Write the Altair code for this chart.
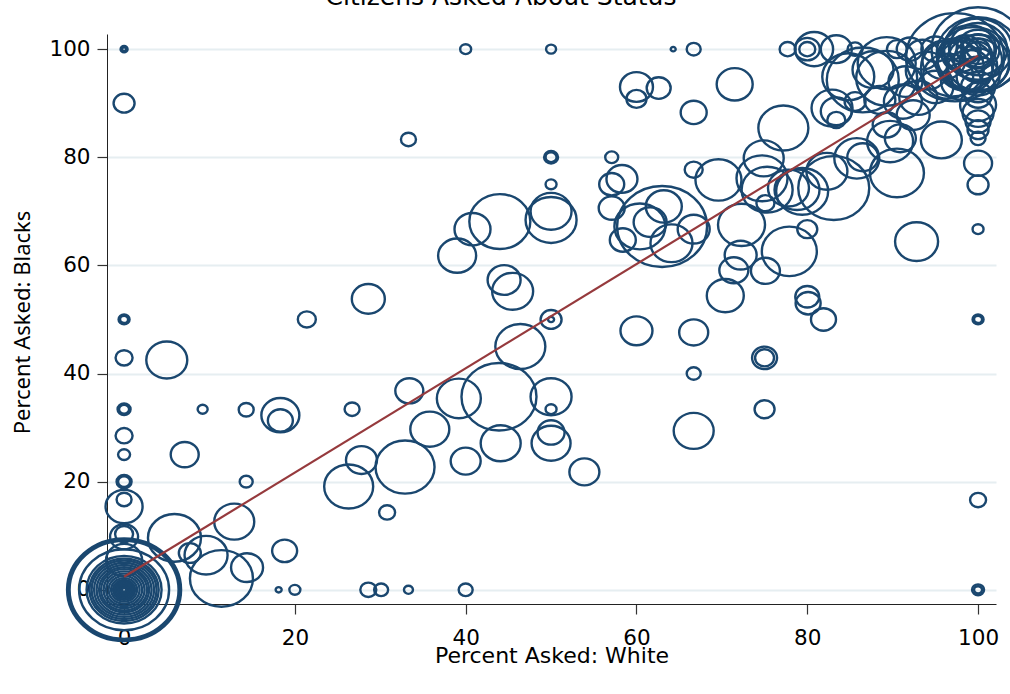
import altair as alt
import pandas as pd

TITLE = "Citizens Asked About Status"

# (percent asked: white, percent asked: blacks, stops) per agency
zero_white = [
    (0, 100, 1.6), (0, 100, 4.9), (0, 90, 44.1), (0, 50, 6.4), (0, 50, 12.1),
    (0, 42.9, 28.9), (0, 33.4, 10), (0, 33.4, 16.9), (0, 28.5, 28.9), (0, 25, 14.4),
    (0, 20, 14.4), (0, 20, 22.5), (0, 16.7, 22.5), (0, 15.4, 136.9), (0, 10.3, 32.4),
    (0, 9.8, 78.4), (0, 5.5, 129.6),
]
origin = [
    (0, 0, 1299.6), (0, 0, 1250.0), (0, 0, 1188.1), (0, 0, 810), (0, 0, 562.5),
    (0, 0, 480.0), (0, 0, 422.5), (0, 0, 360.0), (0, 0, 302.5), (0, 0, 250.0),
    (0, 0, 211.6), (0, 0, 168.1), (0, 0, 129.6), (0, 0, 96.1), (0, 0, 67.6),
    (0, 0, 48.4), (0, 0, 36.1), (0, 0, 25.6), (0, 0, 16.9), (0, 0, 10),
    (0, 0, 4.9), (0, 0, 1.6),
]
zero_black = [
    (18.1, 0, 3.6), (20, 0, 12.1), (28.6, 0, 25.6), (30.1, 0, 19.6), (33.3, 0, 8.1),
    (40, 0, 19.6), (100, 0, 6.4), (100, 0, 14.4),
]
all_black = [
    (40, 100, 12.1), (50, 100, 10), (64.3, 100, 2.5), (66.7, 100, 19.6), (77.7, 100, 25.6),
    (80, 100, 62.5), (80, 100, 25.6), (80.8, 100, 144.4), (83.4, 100, 96.1), (85.6, 100, 22.5),
]
lower_half = [
    (21.4, 50, 32.4), (28.6, 53.8, 108.9), (50, 50, 44.1), (50, 50, 3.6), (60, 47.9, 102.4),
    (66.7, 47.6, 84.1), (66.7, 40, 19.6), (46.4, 45, 250), (43.9, 35.7, 562.5), (39.2, 35.4, 193.6),
    (50, 35.7, 168.1), (50, 33.4, 12.1), (33.4, 36.8, 78.4), (35.8, 29.7, 152.1), (50, 29.1, 72.9),
    (50, 27.1, 152.1), (44.1, 27.1, 160), (40, 23.8, 90), (53.9, 21.8, 90), (66.7, 29.4, 160),
    (32.9, 22.7, 348.1), (27.8, 24, 96.1), (26.3, 19.1, 240.1), (26.7, 33.4, 22.5), (18.3, 32.3, 144.4),
    (18.3, 31.3, 62.5), (14.3, 33.3, 22.5), (14.3, 20, 16.9), (5, 42.5, 168.1), (9.2, 33.4, 10),
    (7.1, 25, 78.4), (5.9, 9.6, 280.9), (7.7, 6.8, 48.4), (9.6, 6.4, 184.9), (11.4, 2.1, 396.9),
    (12.9, 12.6, 160), (14.4, 4.1, 102.4), (18.8, 7.2, 62.5), (30.8, 14.3, 25.6), (100, 50, 6.4),
    (100, 50, 12.1), (75, 42.9, 62.5), (75, 42.9, 36.1), (75, 33.4, 40), (100, 16.6, 25.6),
    (81.9, 50, 62.5),
]
middle = [
    (33.3, 83.3, 22.5), (60, 93, 108.9), (62.6, 92.8, 57.6), (60, 90.8, 40), (66.7, 88.3, 67.6),
    (71.5, 93.5, 129.6), (50, 80, 12.1), (50, 80, 19.6), (57.1, 80, 16.9), (50, 75, 12.1),
    (57.1, 75, 62.5), (58.3, 76, 96.1), (66.7, 77.7, 32.4), (57.1, 70.6, 67.6), (50, 68.4, 260.1),
    (50, 70, 168.1), (44, 68.1, 372.1), (40.8, 66.7, 129.6), (39, 61.8, 144.4), (44.5, 57.3, 108.9),
    (45.5, 55.2, 168.1), (63, 67.2, 810), (63.2, 70.9, 129.6), (61.6, 68, 108.9), (60.4, 67.2, 260.1),
    (64.1, 64.1, 176.4), (66.7, 66.7, 102.4), (58.4, 64.7, 67.6), (69.6, 75.8, 211.6), (77.2, 85.4, 250),
    (74.9, 79.8, 160), (74.7, 76.1, 260.1), (75.3, 74, 260.1), (75.1, 71.5, 32.4), (72.3, 67.5, 220.9),
    (77.8, 74.3, 168.1), (78.8, 74, 202.5), (79.4, 73.7, 270.4), (82.3, 77.4, 168.1), (83.1, 74.3, 504.1),
    (80, 66.7, 40), (77.9, 62.6, 302.5), (75.1, 59, 84.1), (72.2, 61.9, 102.4), (71.4, 59.1, 84.1),
    (70.4, 54.4, 136.9), (80, 54.2, 57.6), (80.1, 53, 62.5), (92.8, 64.4, 184.9), (100, 66.7, 12.1),
]
upper_right = [
    (85.8, 79.8, 202.5), (86.5, 80, 96.1), (90.5, 77.1, 291.6), (89.7, 82.9, 211.6), (90.9, 83.5, 96.1),
    (95.7, 83.2, 168.1), (100, 78.9, 78.4), (100, 74.9, 44.1), (100, 83.5, 22.5), (100, 85.1, 44.1),
    (100, 86.6, 62.5), (100, 88.2, 96.1), (100, 89.7, 129.6), (83.4, 88.5, 96.1), (82.9, 89.1, 168.1),
    (85.6, 90.3, 44.1), (83.4, 86.9, 32.4), (84.8, 94.9, 270.4), (87.7, 96.2, 168.1), (89.3, 97.4, 336.4),
    (89.3, 94.6, 372.1), (88.5, 90.6, 96.1), (91.2, 90.3, 144.4), (92.4, 87.8, 108.9), (89.3, 86, 78.4),
    (97.3, 98.5, 960.4), (86.5, 94.3, 518.4),
]
top_corner = [
    (90.5, 100, 40), (92, 100, 67.6), (93.5, 99, 108.9), (95, 100, 78.4), (96, 98, 184.9),
    (97, 100, 52.9), (98, 99, 144.4), (99, 100, 280.9), (100, 100, 462.4), (100, 99, 688.9),
    (100, 100, 336.4), (100, 98, 230.4), (100, 97, 144.4), (99, 96, 211.6), (98, 94, 160),
    (96.5, 95, 250), (95, 93, 129.6), (94, 96, 176.4), (93, 91, 144.4), (91.5, 94, 115.6),
    (100, 95, 184.9), (100, 93, 115.6), (100, 91.5, 78.4), (98.5, 100, 96.1), (99.5, 98, 532.9),
    (97, 96.5, 396.9), (100, 100, 184.9), (100, 100, 108.9), (100, 100, 52.9), (100, 99, 78.4),
    (99, 99, 32.4), (100, 97.5, 384.4), (98.5, 97, 313.6), (100, 100, 864.9),
]

# linear fit of blacks on whites
fit_white = [0, 100]
fit_black = [2.4, 98.8]

ticks = [0, 20, 40, 60, 80, 100]

rows = zero_white + origin + zero_black + all_black + lower_half + middle + upper_right + top_corner
agencies = pd.DataFrame(rows, columns=["white", "black", "stops"])
fit = pd.DataFrame({"white": fit_white, "black": fit_black})

NAVY = "#1a476f"
MAROON = "#963a3d"
GRID = "#e6eef1"
FONT = "DejaVu Sans"

# hollow ellipse marker (path spans [-1, 1] horizontally)
ELLIPSE = ("M1,0C1,0.497 0.552,0.9 0,0.9C-0.552,0.9 -1,0.497 -1,0"
           "C-1,-0.497 -0.552,-0.9 0,-0.9C0.552,-0.9 1,-0.497 1,0Z")

x_enc = alt.X(
    "white:Q",
    scale=alt.Scale(domain=[-2, 102.1], nice=False, zero=False),
    axis=alt.Axis(
        values=ticks, grid=False, title="Percent Asked: White",
        titleFont=FONT, titleFontSize=22, titleFontWeight="normal", titleColor="#000",
        titleBaseline="alphabetic", titleY=58.5,
        labelFont=FONT, labelFontSize=21.5, labelColor="#000", labelPadding=13,
        tickSize=10, tickColor="#333", tickWidth=1.2,
        domainColor="#222", domainWidth=1,
    ),
)
y_enc = alt.Y(
    "black:Q",
    scale=alt.Scale(domain=[-2.63, 102.8], nice=False, zero=False),
    axis=alt.Axis(
        values=ticks, grid=True, gridColor=GRID, gridWidth=2,
        title="Percent Asked: Blacks",
        titleFont="Noto Sans", titleFontSize=22, titleFontWeight="normal", titleColor="#000",
        titleAngle=270, titleAlign="center", titleBaseline="middle", titleX=-85, titleY=288,
        labelFont=FONT, labelFontSize=21.5, labelColor="#000", labelPadding=7,
        tickSize=10, tickColor="#333", tickWidth=1.2,
        domainColor="#222", domainWidth=1,
    ),
)

bubbles = alt.Chart(agencies).mark_point(
    shape=ELLIPSE, filled=False, color=NAVY, strokeWidth=2.4, opacity=1
).encode(
    x=x_enc,
    y=y_enc,
    size=alt.Size("stops:Q", scale=alt.Scale(type="linear", domain=[0, 1000], range=[0, 10000]), legend=None),
)

fit_line = alt.Chart(fit).mark_line(color=MAROON, strokeWidth=2.2).encode(
    x="white:Q", y="black:Q"
)

title = alt.Chart(pd.DataFrame({"t": [TITLE]})).mark_text(
    font=FONT, fontSize=25, color="#000", align="center", baseline="alphabetic"
).encode(x=alt.value(394), y=alt.value(-29.5), text="t:N")

chart = alt.layer(bubbles, fit_line, title).properties(
    width=889, height=570,
    padding={"left": 107, "top": 34, "right": 14, "bottom": 90},
    autosize="none", background="white",
).configure_view(stroke=None)

chart.save("out.html", embed_options={"renderer": "svg", "actions": False})
